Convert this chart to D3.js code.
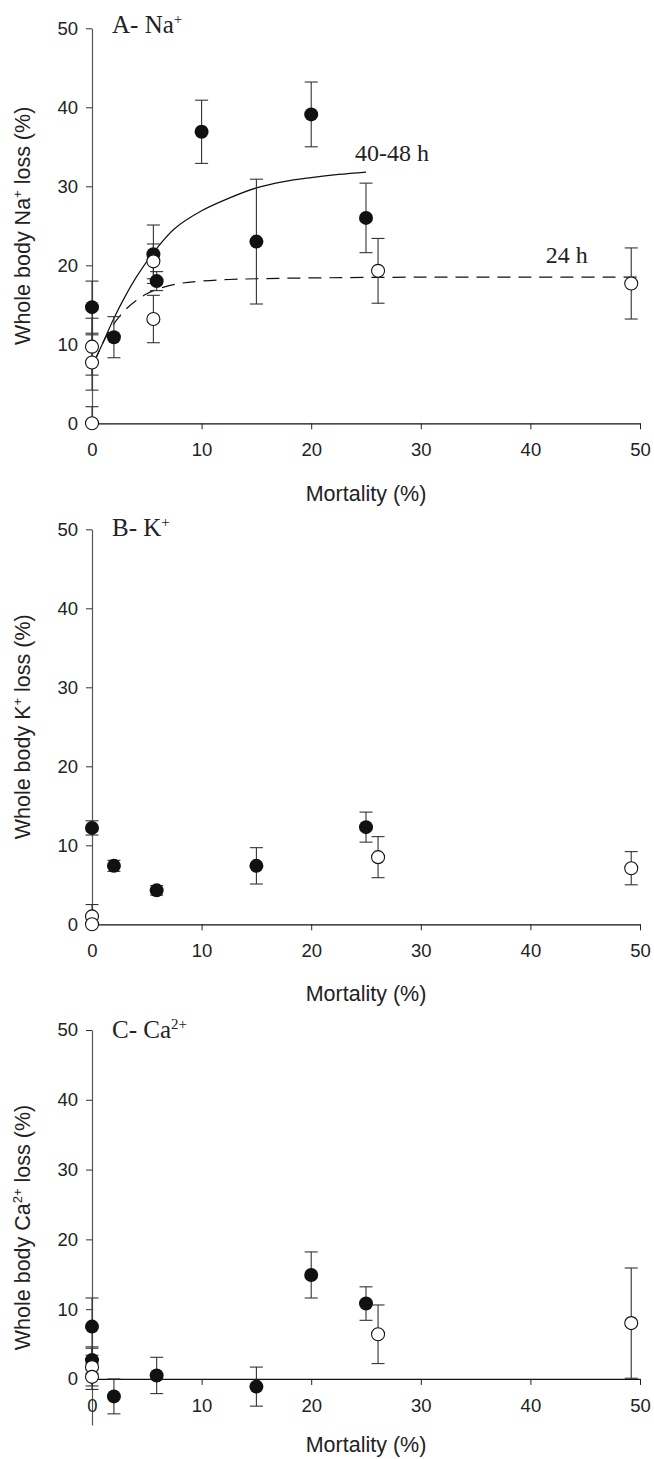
<!DOCTYPE html>
<html>
<head>
<meta charset="utf-8">
<script src="https://cdn.jsdelivr.net/npm/d3@7"></script>
<style>
  body { margin: 0; background: #fff; }
</style>
</head>
<body>
<div id="chart"></div>
<script>
// Whole body ion loss vs mortality, three panels (Na+, K+, Ca2+)
const width = 654;
const height = 1459;
const xLeft = 92;
const xRight = 640;
const plotH = 395;

const xTicks = [0, 10, 20, 30, 40, 50];
const yTicks = [0, 10, 20, 30, 40, 50];

// ---- A- Na+ ----
// filled = 40-48 h, open = 24 h
const naFilledX = [0, 2, 5.6, 5.9, 10, 15, 20, 25];
const naFilledY = [14.7, 10.9, 21.4, 18.0, 36.9, 23.0, 39.1, 26.0];
const naFilledErr = [3.3, 2.6, 3.7, 1.2, 4.0, 7.9, 4.1, 4.4];
const naOpenX = [0, 0, 0, 5.6, 5.6, 26.1, 49.2];
const naOpenY = [9.7, 7.7, 0, 20.5, 13.2, 19.3, 17.7];
const naOpenErr = [3.6, 3.5, 2.1, 2.2, 3.0, 4.1, 4.5];
// fitted curves
const naFitSolid = [[0.2, 7.8], [1, 10.2], [2, 13.3], [3, 16.0], [4, 18.4], [5.6, 21.6], [7.5, 24.6],
  [10, 26.9], [12.5, 28.5], [15, 29.8], [17.5, 30.6], [20, 31.1], [22.5, 31.5], [25, 31.8]];
const naFitDashed = [[0.2, 7.7], [1, 10.2], [2, 12.6], [3, 14.3], [4, 15.5], [5, 16.4], [6.2, 17.1],
  [8, 17.7], [10, 18.0], [12.5, 18.2], [15, 18.3], [20, 18.4], [30, 18.5], [40, 18.5], [50, 18.5]];

// ---- B- K+ ----
const kFilledX = [0, 2, 5.9, 15, 25];
const kFilledY = [12.2, 7.4, 4.3, 7.4, 12.3];
const kFilledErr = [0.9, 0.7, 0.6, 2.3, 1.9];
const kOpenX = [0, 0, 26.1, 49.2];
const kOpenY = [1.0, 0, 8.5, 7.1];
const kOpenErr = [1.5, 0, 2.6, 2.1];

// ---- C- Ca2+ ----
const caFilledX = [0, 0, 2, 5.9, 15, 20, 25];
const caFilledY = [7.5, 2.7, -2.5, 0.5, -1.1, 14.9, 10.8];
const caFilledErr = [4.1, 1.9, 2.5, 2.6, 2.8, 3.3, 2.4];
const caOpenX = [0, 0, 26.1, 49.2];
const caOpenY = [1.7, 0.3, 6.4, 8.0];
const caOpenErr = [2.7, 1.8, 4.2, 7.9];

const sansFont = "'Liberation Sans', Arial, sans-serif";
const serifFont = "'Liberation Serif', 'Times New Roman', serif";

const svg = d3.select("#chart")
  .append("svg")
  .attr("width", width)
  .attr("height", height);

const zip = (xs, ys, es) => xs.map((v, i) => ({ x: v, y: ys[i], e: es[i] }));

const panels = [
  {
    top: 28.3, yDomain: [0, 50], labelDy: 5, titleDy: 77.4,
    label: ["A- Na", "+"], ytitle: ["Whole body Na", "+", " loss (%)"],
    filled: zip(naFilledX, naFilledY, naFilledErr),
    open: zip(naOpenX, naOpenY, naOpenErr),
    curves: true
  },
  {
    top: 529.3, yDomain: [0, 50], labelDy: 7, titleDy: 76.4,
    label: ["B- K", "+"], ytitle: ["Whole body K", "+", " loss (%)"],
    filled: zip(kFilledX, kFilledY, kFilledErr),
    open: zip(kOpenX, kOpenY, kOpenErr)
  },
  {
    top: 1030, yDomain: [-6.6, 50], labelDy: 8, titleDy: 73,
    label: ["C- Ca", "2+"], ytitle: ["Whole body Ca", "2+", " loss (%)"],
    filled: zip(caFilledX, caFilledY, caFilledErr),
    open: zip(caOpenX, caOpenY, caOpenErr)
  }
];

panels.forEach(p => {
  const g = svg.append("g");
  const x = d3.scaleLinear().domain([0, 50]).range([xLeft, xRight]);
  const y = d3.scaleLinear().domain(p.yDomain).range([p.top + plotH, p.top]);
  const y0 = y(0);

  // y axis
  const ya = g.append("g")
    .attr("transform", `translate(${xLeft},0)`)
    .call(d3.axisLeft(y).tickValues(yTicks).tickSize(6).tickSizeOuter(0).tickPadding(8).tickFormat(d3.format("d")));
  ya.select(".domain").attr("stroke", "#555").attr("stroke-width", 1.2);
  ya.selectAll(".tick line").attr("stroke", "#333");
  ya.selectAll("text").attr("font-family", sansFont).attr("font-size", 18.5).attr("fill", "#222");

  // x axis sits at y = 0
  const xa = g.append("g")
    .attr("transform", `translate(0,${y0})`)
    .call(d3.axisBottom(x).tickValues(xTicks).tickSize(6).tickSizeOuter(0).tickPadding(13.5).tickFormat(d3.format("d")));
  xa.select(".domain").attr("stroke", "#111").attr("stroke-width", 1.2);
  xa.selectAll(".tick line").attr("stroke", "#222");
  xa.selectAll("text").attr("font-family", sansFont).attr("font-size", 18.5).attr("fill", "#222");

  // axis titles
  g.append("text")
    .attr("x", (xLeft + xRight) / 2)
    .attr("y", y0 + p.titleDy)
    .attr("text-anchor", "middle")
    .attr("font-family", sansFont)
    .attr("font-size", 21.5)
    .attr("fill", "#222")
    .text("Mortality (%)");

  const yt = g.append("text")
    .attr("transform", `translate(30,${p.top + plotH / 2}) rotate(-90)`)
    .attr("text-anchor", "middle")
    .attr("font-family", sansFont)
    .attr("font-size", 21.5)
    .attr("fill", "#222");
  yt.append("tspan").text(p.ytitle[0]);
  yt.append("tspan").attr("dy", -8).attr("font-size", 13).text(p.ytitle[1]);
  yt.append("tspan").attr("dy", 8).text(p.ytitle[2]);

  // panel label
  const lab = g.append("text")
    .attr("x", 112)
    .attr("y", p.top + p.labelDy)
    .attr("font-family", serifFont)
    .attr("font-size", 25)
    .attr("fill", "#222");
  lab.append("tspan").text(p.label[0]);
  lab.append("tspan").attr("dy", -9).attr("font-size", 15).text(p.label[1]);

  // fitted curves (panel A only)
  if (p.curves) {
    const line = d3.line().x(d => x(d[0])).y(d => y(d[1])).curve(d3.curveCatmullRom.alpha(0.5));
    g.append("path").datum(naFitSolid)
      .attr("d", line).attr("fill", "none").attr("stroke", "#111").attr("stroke-width", 1.2);
    g.append("path").datum(naFitDashed)
      .attr("d", line).attr("fill", "none").attr("stroke", "#111").attr("stroke-width", 1.2)
      .attr("stroke-dasharray", "13,8");
    g.append("text").attr("x", 355).attr("y", 160.7)
      .attr("font-family", serifFont).attr("font-size", 24).attr("fill", "#222").text("40-48 h");
    g.append("text").attr("x", 545.7).attr("y", 263.3)
      .attr("font-family", serifFont).attr("font-size", 24).attr("fill", "#222").text("24 h");
  }

  // error bars, clipped to the axis range
  const lo = p.yDomain[0];
  const drawErr = data => {
    const eb = g.append("g").attr("stroke", "#333").attr("stroke-width", 1.1);
    data.filter(d => d.e > 0).forEach(d => {
      const top = y(d.y + d.e);
      const bot = y(Math.max(d.y - d.e, lo));
      eb.append("line").attr("x1", x(d.x)).attr("x2", x(d.x)).attr("y1", top).attr("y2", bot);
      eb.append("line").attr("x1", x(d.x) - 6.5).attr("x2", x(d.x) + 6.5).attr("y1", top).attr("y2", top);
      if (d.y - d.e >= lo) {
        eb.append("line").attr("x1", x(d.x) - 6.5).attr("x2", x(d.x) + 6.5).attr("y1", bot).attr("y2", bot);
      }
    });
  };
  drawErr(p.filled);
  drawErr(p.open);

  g.selectAll(".filled")
    .data(p.filled)
    .enter()
    .append("circle")
    .attr("class", "filled")
    .attr("cx", d => x(d.x))
    .attr("cy", d => y(d.y))
    .attr("r", 7)
    .attr("fill", "#111");

  g.selectAll(".open")
    .data(p.open)
    .enter()
    .append("circle")
    .attr("class", "open")
    .attr("cx", d => x(d.x))
    .attr("cy", d => y(d.y))
    .attr("r", 6.5)
    .attr("fill", "#fff")
    .attr("stroke", "#111")
    .attr("stroke-width", 1.1);
});
</script>
</body>
</html>
